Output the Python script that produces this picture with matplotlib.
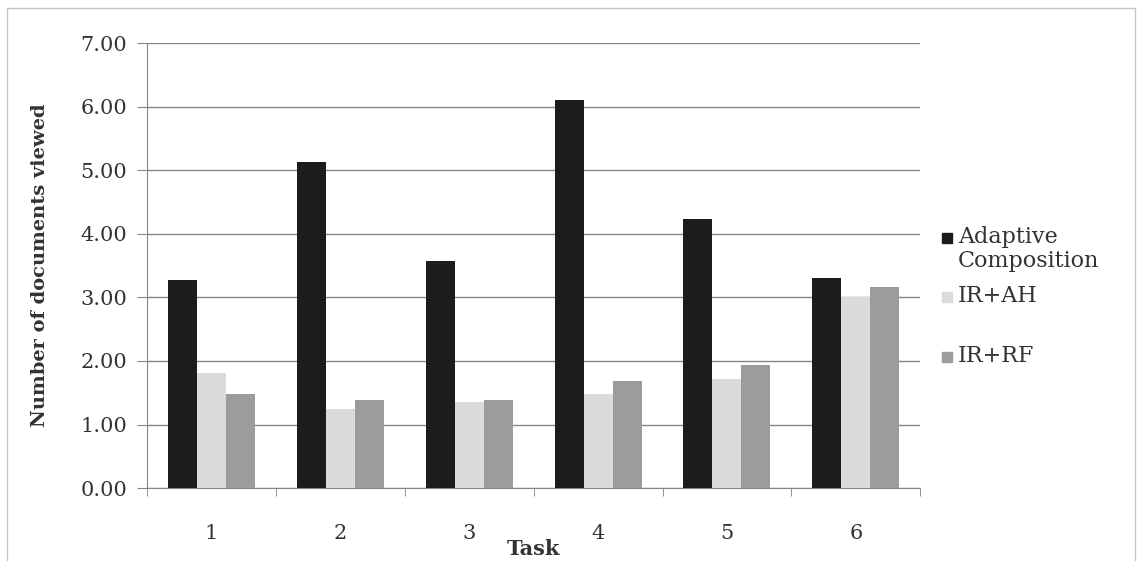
import matplotlib
matplotlib.use("Agg")
import matplotlib.pyplot as plt
from matplotlib.patches import Rectangle
import numpy as np

plt.rcParams['font.family'] = ['DejaVu Serif']

tasks = ["1", "2", "3", "4", "5", "6"]
adaptive = [3.27, 5.13, 3.57, 6.10, 4.24, 3.31]
ir_ah = [1.81, 1.25, 1.36, 1.48, 1.71, 3.00]
ir_rf = [1.48, 1.38, 1.38, 1.69, 1.94, 3.17]

series_names = ["Adaptive\nComposition", "IR+AH", "IR+RF"]
colors = ["#1c1c1c", "#dadbdd", "#9c9c9c"]
text_col = "#333333"
line_col = "#858585"


def draw():
    fig = plt.figure(figsize=(11.39, 5.61), dpi=100)
    ax = fig.add_axes([0.129, 0.130, 0.679, 0.793])

    x = np.arange(len(tasks))
    w = 0.225
    for i, vals in enumerate([adaptive, ir_ah, ir_rf]):
        ax.bar(x + (i - 1) * w, vals, w, color=colors[i], zorder=3)

    ax.set_xlim(-0.5, len(tasks) - 0.5)
    ax.set_ylim(0, 7)
    ax.set_yticks(np.arange(0, 7.01, 1))
    ax.set_yticklabels(["%.2f" % v for v in np.arange(0, 7.01, 1)])
    ax.yaxis.grid(True, color=line_col, lw=1.0, zorder=0)

    ax.set_xticks(x)
    ax.set_xticklabels(tasks)
    ax.set_xticks(np.arange(-0.5, len(tasks)), minor=True)
    ax.tick_params(axis="x", which="major", length=0, pad=26, labelsize=15, colors=text_col)
    ax.tick_params(axis="x", which="minor", length=6, color=line_col, direction="out")
    ax.tick_params(axis="y", length=7, color=line_col, pad=7, labelsize=15, labelcolor=text_col)

    for s in ["top", "right"]:
        ax.spines[s].set_visible(False)
    for s in ["left", "bottom"]:
        ax.spines[s].set_color(line_col)

    ax.set_ylabel("Number of documents viewed", fontsize=14, fontweight="bold", color=text_col, labelpad=23)
    ax.set_xlabel("Task", fontsize=15, fontweight="bold", color=text_col, labelpad=-3)

    # legend drawn Excel style: marker aligned with first text line
    H = 561.0
    W = 1139.0
    rows = [238, 297, 357]
    for name, c, yp in zip(series_names, colors, rows):
        fig.add_artist(Rectangle((942 / W, 1 - (yp + 5) / H), 10 / W, 10 / H,
                                 transform=fig.transFigure, color=c))
        fig.text(958 / W, 1 - (yp - 12) / H, name, fontsize=16, color=text_col,
                 va="top", ha="left", linespacing=1.1)

    fig.add_artist(Rectangle((7 / W, -0.01), 1128 / W, 1 - 8 / H + 0.01,
                             transform=fig.transFigure, fill=False, edgecolor="#c4c4c4", lw=1))

    fig.savefig("out.png", dpi=100)


draw()
